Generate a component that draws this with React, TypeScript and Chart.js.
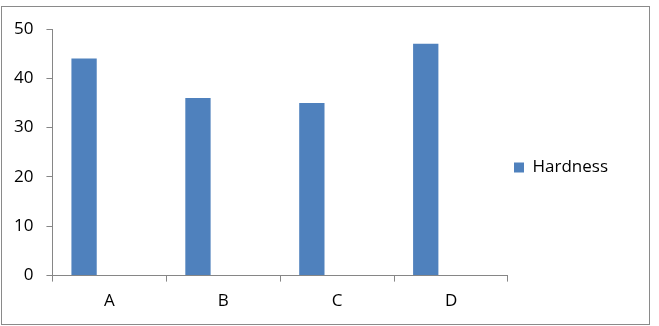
import React, { useEffect, useRef } from "react";
import { Chart, registerables } from "chart.js";

Chart.register(...registerables);

const categories = ["A", "B", "C", "D"];
const hardness = [44, 36, 35, 47];
const emptySeries = [null, null, null, null];
const seriesLabel = "Hardness";
const yMin = 0;
const yMax = 50;
const yStep = 10;

const FONT = "'Open Sans', 'Liberation Sans', sans-serif";
const AXIS = "#868686";

const legendShift = {
  id: "legendShift",
  afterLayout(chart: any) {
    const lg = chart.legend;
    if (lg) {
      lg.top -= 7;
      lg.bottom -= 7;
    }
  },
};

export default function App() {
  const ref = useRef<HTMLCanvasElement>(null);

  useEffect(() => {
    if (!ref.current) return;
    const chart = new Chart(ref.current, {
      type: "bar",
      data: {
        labels: categories,
        datasets: [
          { label: seriesLabel, data: hardness, backgroundColor: "#4F81BD", borderWidth: 0 },
          { label: "", data: emptySeries as any, backgroundColor: "#C0504D" },
          { label: "", data: emptySeries as any, backgroundColor: "#9BBB59" },
        ],
      },
      plugins: [legendShift],
      options: {
        animation: false,
        responsive: false,
        maintainAspectRatio: false,
        devicePixelRatio: 1,
        layout: { padding: { left: 1, top: 29, right: 41, bottom: 6 } },
        datasets: { bar: { categoryPercentage: 3 / 4.5, barPercentage: 1 } },
        plugins: {
          tooltip: { enabled: false },
          legend: {
            position: "right",
            align: "center",
            labels: {
              boxWidth: 10,
              boxHeight: 10,
              padding: 6,
              color: "#000",
              font: { family: FONT, size: 17 },
              filter: (item) => item.text !== "",
            },
          },
        },
        scales: {
          x: {
            grid: {
              display: true,
              drawOnChartArea: false,
              drawTicks: true,
              tickLength: 6,
              color: AXIS,
              offset: true,
            },
            border: { display: true, color: AXIS, width: 1 },
            ticks: { color: "#000", font: { family: FONT, size: 17 }, padding: 9 },
          },
          y: {
            min: yMin,
            max: yMax,
            grid: {
              display: true,
              drawOnChartArea: false,
              drawTicks: true,
              tickLength: 6,
              color: AXIS,
            },
            border: { display: true, color: AXIS, width: 1 },
            ticks: { stepSize: yStep, color: "#000", font: { family: FONT, size: 17 }, padding: 13 },
          },
        },
      },
    });
    return () => chart.destroy();
  }, []);

  return (
    <div style={{ position: "fixed", left: 0, top: 0, width: 659, height: 326, background: "#fff" }}>
      <div
        style={{
          position: "absolute",
          left: 1,
          top: 6,
          width: 647,
          height: 317,
          border: "1px solid #8a8a8a",
        }}
      />
      <canvas ref={ref} width={659} height={326} style={{ position: "absolute", left: 0, top: 0, width: 659, height: 326 }} />
    </div>
  );
}
